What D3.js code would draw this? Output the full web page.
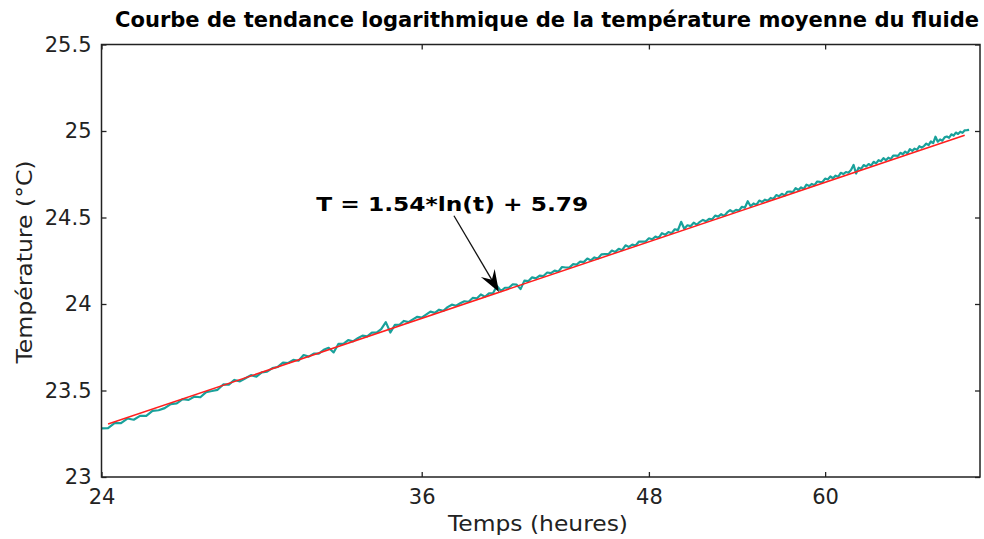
<!DOCTYPE html>
<html>
<head>
<meta charset="utf-8">
<script src="https://cdn.jsdelivr.net/npm/d3@7/dist/d3.min.js"></script>
<style>
  body { margin: 0; background: #fff; }
  text { font-family: "DejaVu Sans", Verdana, sans-serif; fill: #222; }
</style>
</head>
<body>
<svg id="chart" width="984" height="539"></svg>
<script>
var xTicks = [24, 36, 48, 60];
var yTicks = [23, 23.5, 24, 24.5, 25, 25.5];

// mesures : une valeur toutes les 0.2 h, de 24 h a 72 h
var tStart = 24, tStep = 0.2;
var temperature = [
  23.281, 23.283, 23.311, 23.311, 23.338, 23.331, 23.353, 23.353, 23.382, 23.386,
  23.398, 23.421, 23.426, 23.450, 23.446, 23.465, 23.461, 23.491, 23.497, 23.504,
  23.535, 23.534, 23.561, 23.553, 23.571, 23.589, 23.580, 23.605, 23.609, 23.629,
  23.636, 23.661, 23.659, 23.677, 23.672, 23.705, 23.696, 23.713, 23.713, 23.735,
  23.747, 23.720, 23.770, 23.769, 23.791, 23.784, 23.802, 23.817, 23.813, 23.834,
  23.835, 23.855, 23.895, 23.835, 23.879, 23.880, 23.902, 23.895, 23.911, 23.926,
  23.921, 23.939, 23.956, 23.949, 23.967, 23.960, 23.982, 23.996, 23.990, 24.004,
  24.016, 24.013, 24.035, 24.032, 24.055, 24.042, 24.061, 24.062, 24.105, 24.075,
  24.094, 24.094, 24.114, 24.112, 24.086, 24.135, 24.132, 24.154, 24.148, 24.164,
  24.162, 24.182, 24.178, 24.193, 24.187, 24.214, 24.211, 24.210, 24.230, 24.228,
  24.245, 24.242, 24.263, 24.252, 24.269, 24.263, 24.287, 24.288, 24.288, 24.309,
  24.301, 24.319, 24.311, 24.339, 24.330, 24.343, 24.338, 24.361, 24.360, 24.361,
  24.380, 24.374, 24.390, 24.382, 24.409, 24.400, 24.416, 24.409, 24.432, 24.427,
  24.475, 24.435, 24.455, 24.450, 24.470, 24.458, 24.475, 24.486, 24.478, 24.492,
  24.489, 24.511, 24.505, 24.519, 24.509, 24.529, 24.542, 24.532, 24.544, 24.540,
  24.562, 24.556, 24.594, 24.565, 24.581, 24.573, 24.598, 24.590, 24.603, 24.597,
  24.613, 24.607, 24.630, 24.623, 24.637, 24.627, 24.649, 24.650, 24.647, 24.670,
  24.659, 24.674, 24.665, 24.690, 24.682, 24.694, 24.687, 24.708, 24.706, 24.705,
  24.725, 24.720, 24.737, 24.727, 24.742, 24.735, 24.758, 24.751, 24.763, 24.759,
  24.775, 24.804, 24.754, 24.788, 24.781, 24.803, 24.795, 24.809, 24.800, 24.822,
  24.813, 24.831, 24.825, 24.843, 24.831, 24.846, 24.837, 24.858, 24.858, 24.856,
  24.874, 24.866, 24.881, 24.871, 24.895, 24.885, 24.898, 24.891, 24.912, 24.904,
  24.913, 24.927, 24.918, 24.940, 24.930, 24.967, 24.938, 24.951, 24.944, 24.963,
  24.968, 24.961, 24.981, 24.973, 24.991, 24.983, 24.996, 24.989, 25.004, 25.005,
  25.007
];

// courbe de tendance (droite sur l'axe logarithmique)
var trendTime = [24.2, 71.6];
var trendTemp = [23.306, 24.975];

var equation = "T = 1.54*ln(t) + 5.79";
var labelPos = [31.5, 24.54];   // debut du texte (t, T)
var arrowFrom = [37.5, 24.51];
var arrowTo = [39.7, 24.07];

(function() {
  var svg = d3.select("#chart");
  var mLeft = 101.5, mRight = 980, mTop = 44.5, mBottom = 477;

  var x = d3.scaleLog().domain([24, 73]).range([mLeft, mRight]);
  var y = d3.scaleLinear().domain([23, 25.5]).range([mBottom, mTop]);

  var points = temperature.map(function(v, i) { return [tStart + i * tStep, v]; });
  var trend = trendTime.map(function(t, i) { return [t, trendTemp[i]]; });

  var line = d3.line()
    .x(function(d) { return x(d[0]); })
    .y(function(d) { return y(d[1]); });

  svg.append("path")
    .datum(points)
    .attr("d", line)
    .attr("fill", "none")
    .attr("stroke", "#19a19b")
    .attr("stroke-width", 2.2)
    .attr("stroke-linejoin", "round");

  svg.append("path")
    .datum(trend)
    .attr("d", line)
    .attr("fill", "none")
    .attr("stroke", "#ff1f1f")
    .attr("stroke-width", 1.5);

  // axes, graduations vers l'interieur
  function styleAxis(g) {
    g.select(".domain").remove();
    g.selectAll(".tick line").attr("stroke", "#222").attr("stroke-width", 1.3);
    g.selectAll(".tick text").style("font-size", "21px").attr("fill", "#222");
  }

  svg.append("g")
    .attr("transform", "translate(0," + mBottom + ")")
    .call(d3.axisBottom(x).tickValues(xTicks).tickFormat(d3.format("d"))
      .tickSizeInner(-5).tickSizeOuter(0).tickPadding(12))
    .call(styleAxis);

  svg.append("g")
    .attr("transform", "translate(0," + mTop + ")")
    .call(d3.axisTop(x).tickValues(xTicks).tickFormat("")
      .tickSizeInner(-5).tickSizeOuter(0))
    .call(styleAxis);

  svg.append("g")
    .attr("transform", "translate(" + mLeft + ",0)")
    .call(d3.axisLeft(y).tickValues(yTicks).tickFormat(d3.format("~g"))
      .tickSizeInner(-5).tickSizeOuter(0).tickPadding(10))
    .call(styleAxis);

  svg.append("g")
    .attr("transform", "translate(" + mRight + ",0)")
    .call(d3.axisRight(y).tickValues(yTicks).tickFormat("")
      .tickSizeInner(-5).tickSizeOuter(0))
    .call(styleAxis);

  svg.append("rect")
    .attr("x", mLeft).attr("y", mTop)
    .attr("width", mRight - mLeft).attr("height", mBottom - mTop)
    .attr("fill", "none")
    .attr("stroke", "#222")
    .attr("stroke-width", 1.5);

  // titres
  svg.append("text")
    .attr("x", 547).attr("y", 27)
    .attr("text-anchor", "middle")
    .attr("textLength", 864)
    .attr("lengthAdjust", "spacingAndGlyphs")
    .style("font-family", "'DejaVu Sans Condensed', 'DejaVu Sans', sans-serif")
    .style("font-size", "21px")
    .style("font-weight", "bold")
    .style("fill", "#000")
    .text("Courbe de tendance logarithmique de la température moyenne du fluide");

  svg.append("text")
    .attr("x", 538).attr("y", 531)
    .attr("text-anchor", "middle")
    .attr("textLength", 180)
    .attr("lengthAdjust", "spacingAndGlyphs")
    .style("font-size", "21px")
    .text("Temps (heures)");

  svg.append("text")
    .attr("transform", "translate(32,262) rotate(-90)")
    .attr("text-anchor", "middle")
    .attr("textLength", 203)
    .attr("lengthAdjust", "spacingAndGlyphs")
    .style("font-size", "21px")
    .text("Température (°C)");

  // annotation
  svg.append("text")
    .attr("x", x(labelPos[0])).attr("y", y(labelPos[1]))
    .attr("textLength", 272)
    .attr("lengthAdjust", "spacingAndGlyphs")
    .style("font-size", "20px")
    .style("font-weight", "bold")
    .style("fill", "#000")
    .text(equation);

  var ax0 = x(arrowFrom[0]), ay0 = y(arrowFrom[1]);
  var ax1 = x(arrowTo[0]), ay1 = y(arrowTo[1]);
  var ang = Math.atan2(ay1 - ay0, ax1 - ax0);
  var headLen = 22, headW = 8;
  function pt(len, off) {
    return [ax1 - len * Math.cos(ang) - off * Math.sin(ang),
            ay1 - len * Math.sin(ang) + off * Math.cos(ang)];
  }
  svg.append("line")
    .attr("x1", ax0).attr("y1", ay0)
    .attr("x2", pt(14, 0)[0]).attr("y2", pt(14, 0)[1])
    .attr("stroke", "#111")
    .attr("stroke-width", 1.3);
  svg.append("path")
    .attr("d", "M" + [ax1, ay1] + "L" + pt(headLen, headW) + "L" + pt(14, 0) + "L" + pt(headLen, -headW) + "Z")
    .attr("fill", "#000");
})();
</script>
</body>
</html>
